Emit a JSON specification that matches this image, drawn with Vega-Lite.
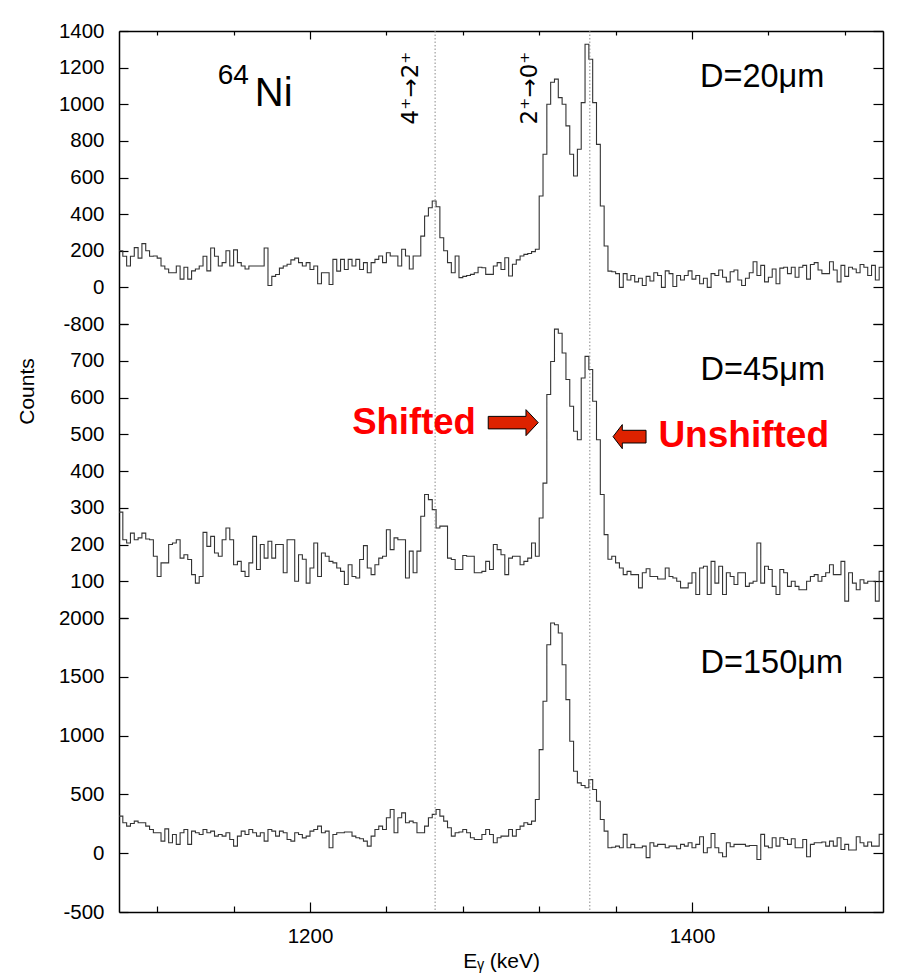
{
"$schema": "https://vega.github.io/schema/vega-lite/v6.json",
"background": "white",
"padding": {"left": 16, "top": 21, "right": 20, "bottom": 8},
"config": {
  "view": {"stroke": null},
  "font": "Liberation Sans",
  "axis": {"domainColor": "black", "tickColor": "black", "domainWidth": 1.5, "tickWidth": 1.2, "labelColor": "black", "labelFont": "Liberation Sans", "labelFontSize": 20.5, "grid": false, "titleFont": "Liberation Sans", "titleFontWeight": "normal", "titleColor": "black", "labelOverlap": false, "labelFlush": false, "labelBound": false}
},
"datasets": {"spec": [
{"E":1100,"a":200,"b":288,"c":315},{"E":1102,"a":170,"b":213,"c":259},{"E":1104,"a":117,"b":204,"c":230},{"E":1106,"a":170,"b":231,"c":253},{"E":1108,"a":217,"b":213,"c":273},
{"E":1110,"a":160,"b":218,"c":259},{"E":1112,"a":239,"b":231,"c":259},{"E":1114,"a":200,"b":215,"c":230},{"E":1116,"a":170,"b":213,"c":202},{"E":1118,"a":171,"b":168,"c":174},
{"E":1120,"a":160,"b":113,"c":174},{"E":1122,"a":117,"b":150,"c":103},{"E":1124,"a":100,"b":150,"c":207},{"E":1126,"a":80,"b":200,"c":89},{"E":1128,"a":80,"b":204,"c":159},
{"E":1130,"a":117,"b":213,"c":75},{"E":1132,"a":45,"b":163,"c":174},{"E":1134,"a":110,"b":172,"c":202},{"E":1136,"a":45,"b":159,"c":75},{"E":1138,"a":90,"b":118,"c":188},
{"E":1140,"a":100,"b":95,"c":174},{"E":1142,"a":117,"b":113,"c":159},{"E":1144,"a":170,"b":233,"c":202},{"E":1146,"a":90,"b":195,"c":174},{"E":1148,"a":215,"b":222,"c":188},
{"E":1150,"a":170,"b":177,"c":145},{"E":1152,"a":117,"b":168,"c":159},{"E":1154,"a":135,"b":213,"c":145},{"E":1156,"a":200,"b":245,"c":174},{"E":1158,"a":117,"b":213,"c":117},
{"E":1160,"a":205,"b":145,"c":60},{"E":1162,"a":135,"b":154,"c":145},{"E":1164,"a":117,"b":127,"c":188},{"E":1166,"a":100,"b":113,"c":159},{"E":1168,"a":117,"b":150,"c":202},
{"E":1170,"a":117,"b":222,"c":174},{"E":1172,"a":117,"b":132,"c":145},{"E":1174,"a":117,"b":200,"c":174},{"E":1176,"a":215,"b":163,"c":103},{"E":1178,"a":10,"b":209,"c":202},
{"E":1180,"a":60,"b":163,"c":188},{"E":1182,"a":70,"b":200,"c":145},{"E":1184,"a":105,"b":200,"c":188},{"E":1186,"a":117,"b":123,"c":174},{"E":1188,"a":126,"b":213,"c":117},
{"E":1190,"a":150,"b":213,"c":103},{"E":1192,"a":160,"b":100,"c":174},{"E":1194,"a":135,"b":172,"c":159},{"E":1196,"a":117,"b":160,"c":130},{"E":1198,"a":135,"b":95,"c":145},
{"E":1200,"a":98,"b":136,"c":188},{"E":1202,"a":117,"b":204,"c":202},{"E":1204,"a":20,"b":113,"c":230},{"E":1206,"a":80,"b":177,"c":174},{"E":1208,"a":80,"b":168,"c":188},
{"E":1210,"a":16,"b":154,"c":46},{"E":1212,"a":153,"b":150,"c":159},{"E":1214,"a":89,"b":136,"c":174},{"E":1216,"a":153,"b":127,"c":174},{"E":1218,"a":98,"b":91,"c":180},
{"E":1220,"a":153,"b":145,"c":180},{"E":1222,"a":117,"b":113,"c":145},{"E":1224,"a":153,"b":109,"c":131},{"E":1226,"a":98,"b":159,"c":123},{"E":1228,"a":135,"b":197,"c":103},
{"E":1230,"a":80,"b":136,"c":60},{"E":1232,"a":135,"b":118,"c":145},{"E":1234,"a":153,"b":145,"c":202},{"E":1236,"a":171,"b":163,"c":230},{"E":1238,"a":135,"b":168,"c":202},
{"E":1240,"a":189,"b":240,"c":301},{"E":1242,"a":171,"b":186,"c":372},{"E":1244,"a":171,"b":218,"c":174},{"E":1246,"a":117,"b":213,"c":301},{"E":1248,"a":208,"b":213,"c":343},
{"E":1250,"a":171,"b":109,"c":259},{"E":1252,"a":100,"b":182,"c":273},{"E":1254,"a":171,"b":123,"c":259},{"E":1256,"a":171,"b":182,"c":174},{"E":1258,"a":280,"b":277,"c":174},
{"E":1260,"a":390,"b":336,"c":230},{"E":1262,"a":435,"b":322,"c":301},{"E":1264,"a":472,"b":295,"c":330},{"E":1266,"a":440,"b":245,"c":372},{"E":1268,"a":271,"b":250,"c":315},
{"E":1270,"a":200,"b":250,"c":273},{"E":1272,"a":135,"b":163,"c":216},{"E":1274,"a":80,"b":159,"c":145},{"E":1276,"a":171,"b":132,"c":174},{"E":1278,"a":53,"b":132,"c":180},
{"E":1280,"a":60,"b":170,"c":202},{"E":1282,"a":65,"b":168,"c":174},{"E":1284,"a":71,"b":168,"c":131},{"E":1286,"a":80,"b":123,"c":117},{"E":1288,"a":110,"b":123,"c":117},
{"E":1290,"a":107,"b":127,"c":159},{"E":1292,"a":71,"b":154,"c":202},{"E":1294,"a":71,"b":132,"c":159},{"E":1296,"a":117,"b":200,"c":89},{"E":1298,"a":135,"b":186,"c":131},
{"E":1300,"a":98,"b":172,"c":145},{"E":1302,"a":162,"b":118,"c":145},{"E":1304,"a":62,"b":163,"c":202},{"E":1306,"a":126,"b":168,"c":145},{"E":1308,"a":150,"b":168,"c":202},
{"E":1310,"a":171,"b":145,"c":230},{"E":1312,"a":180,"b":154,"c":259},{"E":1314,"a":185,"b":163,"c":245},{"E":1316,"a":195,"b":204,"c":273},{"E":1318,"a":208,"b":168,"c":457},
{"E":1320,"a":499,"b":272,"c":881},{"E":1322,"a":727,"b":367,"c":1292},{"E":1324,"a":1000,"b":608,"c":1773},{"E":1326,"a":1120,"b":698,"c":1957},{"E":1328,"a":1137,"b":786,"c":1943},
{"E":1330,"a":1036,"b":775,"c":1872},{"E":1332,"a":1000,"b":721,"c":1603},{"E":1334,"a":882,"b":649,"c":1306},{"E":1336,"a":727,"b":576,"c":952},{"E":1338,"a":608,"b":508,"c":697},
{"E":1340,"a":754,"b":485,"c":598},{"E":1342,"a":1009,"b":653,"c":576},{"E":1344,"a":1328,"b":712,"c":556},{"E":1346,"a":1246,"b":676,"c":626},{"E":1348,"a":1009,"b":590,"c":542},
{"E":1350,"a":781,"b":485,"c":442},{"E":1352,"a":444,"b":336,"c":287},{"E":1354,"a":226,"b":227,"c":188},{"E":1356,"a":89,"b":160,"c":46},{"E":1358,"a":85,"b":168,"c":50},
{"E":1360,"a":75,"b":150,"c":60},{"E":1362,"a":0,"b":136,"c":46},{"E":1364,"a":75,"b":118,"c":160},{"E":1366,"a":40,"b":127,"c":46},{"E":1368,"a":65,"b":118,"c":75},
{"E":1370,"a":30,"b":118,"c":46},{"E":1372,"a":50,"b":82,"c":46},{"E":1374,"a":10,"b":123,"c":60},{"E":1376,"a":60,"b":134,"c":-38},{"E":1378,"a":35,"b":113,"c":89},
{"E":1380,"a":80,"b":113,"c":60},{"E":1382,"a":65,"b":106,"c":75},{"E":1384,"a":0,"b":106,"c":75},{"E":1386,"a":90,"b":136,"c":46},{"E":1388,"a":75,"b":113,"c":60},
{"E":1390,"a":5,"b":109,"c":60},{"E":1392,"a":65,"b":100,"c":38},{"E":1394,"a":40,"b":82,"c":75},{"E":1396,"a":65,"b":82,"c":60},{"E":1398,"a":90,"b":95,"c":89},
{"E":1400,"a":45,"b":123,"c":46},{"E":1402,"a":65,"b":64,"c":75},{"E":1404,"a":20,"b":136,"c":140},{"E":1406,"a":50,"b":141,"c":4},{"E":1408,"a":0,"b":64,"c":46},
{"E":1410,"a":75,"b":154,"c":168},{"E":1412,"a":65,"b":95,"c":46},{"E":1414,"a":95,"b":141,"c":4},{"E":1416,"a":55,"b":64,"c":-30},{"E":1418,"a":30,"b":123,"c":89},
{"E":1420,"a":85,"b":113,"c":55},{"E":1422,"a":95,"b":91,"c":75},{"E":1424,"a":40,"b":123,"c":75},{"E":1426,"a":10,"b":123,"c":75},{"E":1428,"a":50,"b":86,"c":60},
{"E":1430,"a":80,"b":95,"c":66},{"E":1432,"a":140,"b":100,"c":66},{"E":1434,"a":65,"b":204,"c":-53},{"E":1436,"a":120,"b":95,"c":160},{"E":1438,"a":30,"b":141,"c":60},
{"E":1440,"a":55,"b":132,"c":46},{"E":1442,"a":100,"b":86,"c":131},{"E":1444,"a":20,"b":64,"c":60},{"E":1446,"a":105,"b":132,"c":131},{"E":1448,"a":110,"b":123,"c":117},
{"E":1450,"a":75,"b":86,"c":75},{"E":1452,"a":110,"b":100,"c":123},{"E":1454,"a":55,"b":86,"c":46},{"E":1456,"a":110,"b":77,"c":46},{"E":1458,"a":120,"b":77,"c":117},
{"E":1460,"a":45,"b":100,"c":-30},{"E":1462,"a":125,"b":113,"c":75},{"E":1464,"a":135,"b":118,"c":89},{"E":1466,"a":95,"b":100,"c":89},{"E":1468,"a":75,"b":113,"c":95},
{"E":1470,"a":75,"b":123,"c":60},{"E":1472,"a":140,"b":145,"c":103},{"E":1474,"a":95,"b":118,"c":60},{"E":1476,"a":30,"b":118,"c":131},{"E":1478,"a":120,"b":154,"c":32},
{"E":1480,"a":60,"b":46,"c":75},{"E":1482,"a":110,"b":123,"c":27},{"E":1484,"a":100,"b":95,"c":27},{"E":1486,"a":80,"b":77,"c":140},{"E":1488,"a":125,"b":104,"c":89},
{"E":1490,"a":110,"b":95,"c":60},{"E":1492,"a":65,"b":100,"c":95},{"E":1494,"a":120,"b":100,"c":60},{"E":1496,"a":40,"b":46,"c":60},{"E":1498,"a":110,"b":127,"c":160},
{"E":1500,"a":110,"b":127,"c":160}
]},
"spacing": 0,
"bounds": "flush",
"vconcat": [
{
  "width": 764, "height": 293,
  "resolve": {"axis": {"x": "independent", "y": "independent"}},
  "layer": [
    {
      "data": {"name": "spec"},
      "mark": {"type": "line", "interpolate": "step-after", "color": "#333333", "strokeWidth": 1.1},
      "encoding": {
        "x": {"field": "E", "type": "quantitative", "scale": {"domain": [1100, 1500], "nice": false, "zero": false}, "axis": {"orient": "top", "values": [1120, 1160, 1240, 1280, 1320, 1360, 1440, 1480], "tickSize": -4, "labels": false, "title": null, "domain": true}},
        "y": {"field": "a", "type": "quantitative", "scale": {"domain": [-200, 1400], "nice": false, "zero": false}, "axis": {"orient": "left", "values": [-200, 0, 200, 400, 600, 800, 1000, 1200, 1400], "tickSize": -9, "labelPadding": 24, "labelExpr": "datum.value == -200 ? '' : '' + datum.value", "title": null}}
      }
    },
    {
      "data": {"values": [{"E": 1265.5}, {"E": 1346.5}]},
      "mark": {"type": "rule", "color": "#8a8a8a", "strokeWidth": 1, "strokeDash": [1.5, 2]},
      "encoding": {
        "x": {"field": "E", "type": "quantitative", "scale": {"domain": [1100, 1500], "nice": false, "zero": false}, "axis": {"orient": "top", "values": [1200, 1400], "tickSize": -8, "labels": false, "domain": false, "title": null}}
      }
    },
    {
      "data": {"values": [{}]},
      "mark": {"type": "text", "text": "D=20μm", "fontSize": 32.5, "align": "left", "baseline": "alphabetic", "color": "black"},
      "encoding": {
        "x": {"datum": 1404.2, "type": "quantitative", "scale": {"domain": [1100, 1500], "nice": false, "zero": false}, "axis": null},
        "y": {"datum": 1092, "type": "quantitative", "scale": {"domain": [-200, 1400], "nice": false, "zero": false}, "axis": {"orient": "right", "values": [-200, 0, 200, 400, 600, 800, 1000, 1200, 1400], "tickSize": -10, "labels": false, "title": null, "domain": true}}
      }
    },
    {
      "data": {"values": [{}]},
      "mark": {"type": "text", "text": "64", "fontSize": 28, "align": "left", "baseline": "alphabetic", "color": "black"},
      "encoding": {
        "x": {"datum": 1151.7, "type": "quantitative", "scale": {"domain": [1100, 1500], "nice": false, "zero": false}, "axis": null},
        "y": {"datum": 1109, "type": "quantitative", "scale": {"domain": [-200, 1400], "nice": false, "zero": false}, "axis": null}
      }
    },
    {
      "data": {"values": [{}]},
      "mark": {"type": "text", "text": "Ni", "fontSize": 40, "align": "left", "baseline": "alphabetic", "color": "black"},
      "encoding": {
        "x": {"datum": 1171.1, "type": "quantitative", "scale": {"domain": [1100, 1500], "nice": false, "zero": false}, "axis": null},
        "y": {"datum": 989, "type": "quantitative", "scale": {"domain": [-200, 1400], "nice": false, "zero": false}, "axis": null}
      }
    },
    {
      "data": {"values": [{}]},
      "mark": {"type": "text", "text": "4⁺→2⁺", "font": "DejaVu Sans", "fontSize": 23, "angle": 270, "align": "left", "baseline": "alphabetic", "color": "black"},
      "encoding": {
        "x": {"datum": 1256.8, "type": "quantitative", "scale": {"domain": [1100, 1500], "nice": false, "zero": false}, "axis": null},
        "y": {"datum": 890, "type": "quantitative", "scale": {"domain": [-200, 1400], "nice": false, "zero": false}, "axis": null}
      }
    },
    {
      "data": {"values": [{}]},
      "mark": {"type": "text", "text": "2⁺→0⁺", "font": "DejaVu Sans", "fontSize": 23, "angle": 270, "align": "left", "baseline": "alphabetic", "color": "black"},
      "encoding": {
        "x": {"datum": 1318.8, "type": "quantitative", "scale": {"domain": [1100, 1500], "nice": false, "zero": false}, "axis": null},
        "y": {"datum": 890, "type": "quantitative", "scale": {"domain": [-200, 1400], "nice": false, "zero": false}, "axis": null}
      }
    }
  ]
},
{
  "width": 764, "height": 294,
  "resolve": {"axis": {"x": "independent", "y": "independent"}},
  "layer": [
    {
      "data": {"name": "spec"},
      "mark": {"type": "line", "interpolate": "step-after", "color": "#333333", "strokeWidth": 1.1},
      "encoding": {
        "x": {"field": "E", "type": "quantitative", "scale": {"domain": [1100, 1500], "nice": false, "zero": false}, "axis": null},
        "y": {"field": "b", "type": "quantitative", "scale": {"domain": [0, 800], "nice": false, "zero": false}, "axis": {"orient": "left", "values": [0, 100, 200, 300, 400, 500, 600, 700, 800], "tickSize": -9, "labelPadding": 24, "labelExpr": "datum.value == 0 ? '' : datum.value == 800 ? '-800' : '' + datum.value", "title": "Counts", "titleFontSize": 21, "titleAngle": 270, "titleAlign": "center", "titleBaseline": "alphabetic", "titleX": -86, "titleY": 67}}
      }
    },
    {
      "data": {"values": [{"E": 1265.5}, {"E": 1346.5}]},
      "mark": {"type": "rule", "color": "#8a8a8a", "strokeWidth": 1, "strokeDash": [1.5, 2]},
      "encoding": {
        "x": {"field": "E", "type": "quantitative", "scale": {"domain": [1100, 1500], "nice": false, "zero": false}, "axis": null}
      }
    },
    {
      "data": {"values": [{}]},
      "mark": {"type": "text", "text": "D=45μm", "fontSize": 32.5, "align": "left", "baseline": "alphabetic", "color": "black"},
      "encoding": {
        "x": {"datum": 1404.5, "type": "quantitative", "scale": {"domain": [1100, 1500], "nice": false, "zero": false}, "axis": null},
        "y": {"datum": 648, "type": "quantitative", "scale": {"domain": [0, 800], "nice": false, "zero": false}, "axis": {"orient": "right", "values": [0, 100, 200, 300, 400, 500, 600, 700, 800], "tickSize": -10, "labels": false, "title": null, "domain": true}}
      }
    },
    {
      "data": {"values": [{}]},
      "mark": {"type": "text", "text": "Shifted", "fontSize": 36.5, "fontWeight": "bold", "align": "left", "baseline": "alphabetic", "color": "#ff0000"},
      "encoding": {
        "x": {"datum": 1222.1, "type": "quantitative", "scale": {"domain": [1100, 1500], "nice": false, "zero": false}, "axis": null},
        "y": {"datum": 502, "type": "quantitative", "scale": {"domain": [0, 800], "nice": false, "zero": false}, "axis": null}
      }
    },
    {
      "data": {"values": [{}]},
      "mark": {"type": "text", "text": "Unshifted", "fontSize": 37, "fontWeight": "bold", "align": "left", "baseline": "alphabetic", "color": "#ff0000"},
      "encoding": {
        "x": {"datum": 1382.4, "type": "quantitative", "scale": {"domain": [1100, 1500], "nice": false, "zero": false}, "axis": null},
        "y": {"datum": 465.5, "type": "quantitative", "scale": {"domain": [0, 800], "nice": false, "zero": false}, "axis": null}
      }
    },
    {
      "data": {"values": [{}]},
      "mark": {"type": "point", "shape": "M-1,-0.25L0.51,-0.25L0.51,-0.52L1,0L0.51,0.52L0.51,0.25L-1,0.25Z", "size": 2500, "filled": true, "fill": "#dd2200", "stroke": "#000000", "strokeWidth": 1, "opacity": 1},
      "encoding": {
        "x": {"datum": 1306.4, "type": "quantitative", "scale": {"domain": [1100, 1500], "nice": false, "zero": false}, "axis": null},
        "y": {"datum": 531.6, "type": "quantitative", "scale": {"domain": [0, 800], "nice": false, "zero": false}, "axis": null}
      }
    },
    {
      "data": {"values": [{}]},
      "mark": {"type": "point", "shape": "M1,-0.385L-0.44,-0.385L-0.44,-0.73L-1,0L-0.44,0.73L-0.44,0.385L1,0.385Z", "size": 1089, "filled": true, "fill": "#dd2200", "stroke": "#000000", "strokeWidth": 1, "opacity": 1},
      "encoding": {
        "x": {"datum": 1367.3, "type": "quantitative", "scale": {"domain": [1100, 1500], "nice": false, "zero": false}, "axis": null},
        "y": {"datum": 493.5, "type": "quantitative", "scale": {"domain": [0, 800], "nice": false, "zero": false}, "axis": null}
      }
    }
  ]
},
{
  "width": 764, "height": 294,
  "resolve": {"axis": {"x": "independent", "y": "independent"}},
  "layer": [
    {
      "data": {"name": "spec"},
      "mark": {"type": "line", "interpolate": "step-after", "color": "#333333", "strokeWidth": 1.1},
      "encoding": {
        "x": {"field": "E", "type": "quantitative", "scale": {"domain": [1100, 1500], "nice": false, "zero": false}, "axis": {"orient": "bottom", "values": [1120, 1160, 1240, 1280, 1320, 1360, 1440, 1480], "tickSize": -6, "labels": false, "title": null, "domain": true}},
        "y": {"field": "c", "type": "quantitative", "scale": {"domain": [-500, 2000], "nice": false, "zero": false}, "axis": {"orient": "left", "values": [-500, 0, 500, 1000, 1500, 2000], "tickSize": -9, "labelPadding": 24, "labelExpr": "'' + datum.value", "title": null}}
      }
    },
    {
      "data": {"values": [{"E": 1265.5}, {"E": 1346.5}]},
      "mark": {"type": "rule", "color": "#8a8a8a", "strokeWidth": 1, "strokeDash": [1.5, 2]},
      "encoding": {
        "x": {"field": "E", "type": "quantitative", "scale": {"domain": [1100, 1500], "nice": false, "zero": false}, "axis": {"orient": "bottom", "values": [1200, 1400], "tickSize": -10, "labelPadding": 24, "labelExpr": "'' + datum.value", "domain": false, "title": "Eᵧ (keV)", "titleFontSize": 21, "titleBaseline": "alphabetic", "titleY": 55.5}}
      }
    },
    {
      "data": {"values": [{}]},
      "mark": {"type": "text", "text": "D=150μm", "fontSize": 32.5, "align": "left", "baseline": "alphabetic", "color": "black"},
      "encoding": {
        "x": {"datum": 1404.5, "type": "quantitative", "scale": {"domain": [1100, 1500], "nice": false, "zero": false}, "axis": null},
        "y": {"datum": 1533, "type": "quantitative", "scale": {"domain": [-500, 2000], "nice": false, "zero": false}, "axis": {"orient": "right", "values": [-500, 0, 500, 1000, 1500, 2000], "tickSize": -10, "labels": false, "title": null, "domain": true}}
      }
    }
  ]
}
]
}
